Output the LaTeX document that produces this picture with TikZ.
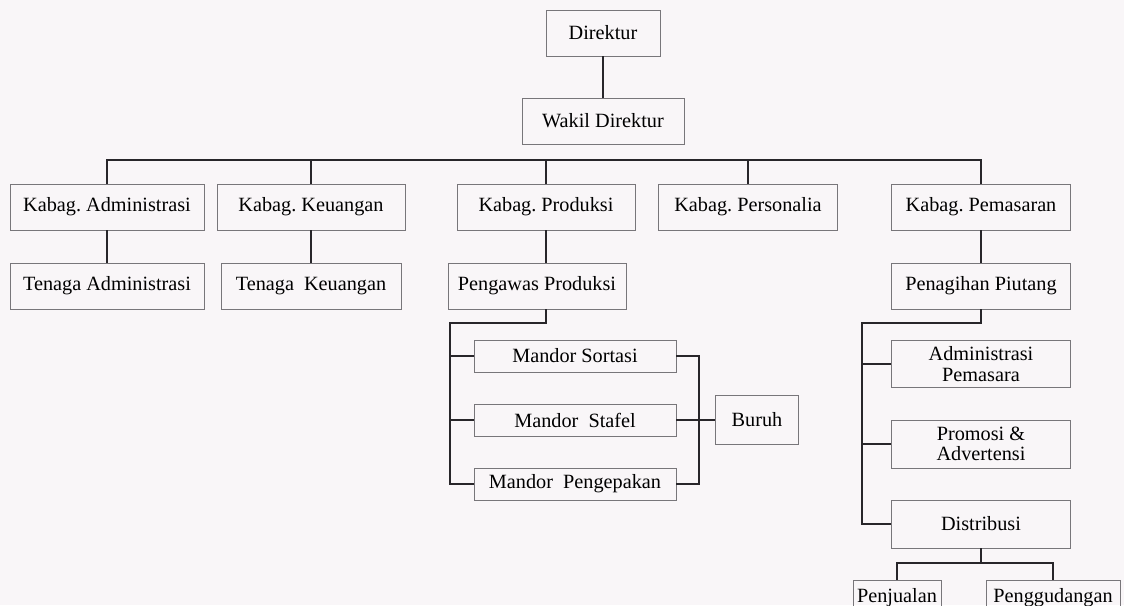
\documentclass[tikz,border=0pt]{standalone}
\usepackage{fontspec}
\setmainfont{Liberation Serif}
\usepackage{tikz}

\definecolor{paper}{RGB}{249,246,248}
\definecolor{ink}{RGB}{40,38,42}
\definecolor{frame}{RGB}{120,118,122}

\tikzset{
  orgbox/.style={draw=frame, line width=0.45pt, inner sep=0pt, align=center,
    minimum width=#1*0.025cm, minimum height=1.15cm},
  lowbox/.style={orgbox=#1, minimum height=0.8cm},
  link/.style={draw=ink, line width=1.2pt}
}

\begin{document}
\frenchspacing
\begin{tikzpicture}[x=0.025cm, y=-0.025cm, font=\fontsize{14.4}{14.5}\selectfont]

    \useasboundingbox (0,0) rectangle (1124,605);
    \fill[paper] (0,0) rectangle (1124,605);
    \clip (0,0) rectangle (1124,605);

    % pimpinan
    \node[orgbox=114] (dir)   at (603,33)  {Direktur};
    \node[orgbox=162] (wakil) at (603,121) {Wakil Direktur};

    % kepala bagian
    \node[orgbox=194] (kadm)  at (107,207) {Kabag. Administrasi};
    \node[orgbox=188] (kkeu)  at (311,207) {Kabag. Keuangan};
    \node[orgbox=178] (kprod) at (546,207) {Kabag. Produksi};
    \node[orgbox=179] (kpers) at (748,207) {Kabag. Personalia};
    \node[orgbox=179] (kpem)  at (981,207) {Kabag. Pemasaran};

    \node[orgbox=194] (tadm)  at (107,286) {Tenaga Administrasi};
    \node[orgbox=180] (tkeu)  at (311,286) {Tenaga\ \ Keuangan};
    \node[orgbox=178] (awas)  at (537,286) {Pengawas Produksi};
    \node[orgbox=179] (tagih) at (981,286) {Penagihan Piutang};

    % produksi
    \node[lowbox=202] (msort) at (575,356) {Mandor Sortasi};
    \node[lowbox=202] (mstaf) at (575,420) {Mandor\ \ Stafel};
    \node[lowbox=202] (mpack) at (575,484) {Mandor\ \ Pengepakan};
    \node[orgbox=83, minimum height=1.22cm] (buruh) at (757,420) {Buruh};

    % pemasaran
    \node[orgbox=179, minimum height=1.18cm] (admpem) at (981,364) {Administrasi\\Pemasara};
    \node[orgbox=179, minimum height=1.2cm]  (promo)  at (981,444) {Promosi \&\\Advertensi};
    \node[orgbox=179, minimum height=1.2cm]  (distr)  at (981,524) {Distribusi};
    \node[lowbox=88,  minimum height=0.9cm]  (jual)   at (897,598) {Penjualan};
    \node[lowbox=134, minimum height=0.9cm]  (gudang) at (1053,598) {Penggudangan};

    \coordinate (bus)   at (0,160);
    \coordinate (pbend) at (450,323);
    \coordinate (rbus)  at (699,0);
    \coordinate (mbend) at (862,323);
    \coordinate (dbar)  at (0,563);

    \draw[link] (dir) -- (wakil);

    \draw[link] (kadm.north) -- (kadm.north |- bus) -| (kpem.north);
    \foreach \n in {kkeu,kprod,kpers}
        \draw[link] (\n.north) -- (\n.north |- bus);

    \draw[link] (kadm) -- (tadm);
    \draw[link] (kkeu) -- (tkeu);
    \draw[link] (kprod.south) -- (kprod.south |- awas.north);
    \draw[link] (kpem) -- (tagih);

    \draw[link] (kprod.south |- awas.south) -- (kprod.south |- pbend) -- (pbend) |- (mpack.west);
    \draw[link] (pbend |- msort) -- (msort.west);
    \draw[link] (pbend |- mstaf) -- (mstaf.west);
    \draw[link] (msort.east) -- (msort.east -| rbus) -- (mpack.east -| rbus) -- (mpack.east);
    \draw[link] (mstaf) -- (buruh);

    \draw[link] (tagih.south) -- (tagih.south |- mbend) -- (mbend) |- (distr.west);
    \draw[link] (mbend |- admpem) -- (admpem.west);
    \draw[link] (mbend |- promo) -- (promo.west);
    \draw[link] (distr.south) -- (distr.south |- dbar);
    \draw[link] (jual.north) -- (jual.north |- dbar) -| (gudang.north);

\end{tikzpicture}
\end{document}
